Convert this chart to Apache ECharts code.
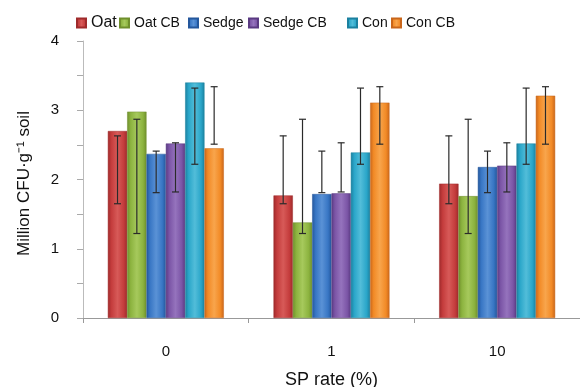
<!DOCTYPE html>
<html>
<head>
<meta charset="utf-8">
<script src="https://cdn.jsdelivr.net/npm/echarts@6/dist/echarts.min.js"></script>
<style>
  html, body { margin: 0; padding: 0; background: #fff; }
  #chart { width: 580px; height: 387px; }
</style>
</head>
<body>
<div id="chart"></div>
<script>
// SP rate categories
const categories = ['0', '1', '10']
const seriesNames = ['Oat', 'Oat CB', 'Sedge', 'Sedge CB', 'Con', 'Con CB']

// mean values (Million CFU per g soil)
const oat = [2.70, 1.77, 1.94]
const oatCB = [2.98, 1.38, 1.76]
const sedge = [2.37, 1.79, 2.18]
const sedgeCB = [2.52, 1.80, 2.20]
const con = [3.40, 2.39, 2.52]
const conCB = [2.45, 3.11, 3.21]

// error bars [low, high]
const oatErr = [[1.65, 2.63], [1.65, 2.63], [1.65, 2.63]]
const oatCBErr = [[1.22, 2.87], [1.22, 2.87], [1.22, 2.87]]
const sedgeErr = [[1.81, 2.41], [1.81, 2.41], [1.81, 2.41]]
const sedgeCBErr = [[1.82, 2.53], [1.82, 2.53], [1.82, 2.53]]
const conErr = [[2.22, 3.32], [2.22, 3.32], [2.22, 3.32]]
const conCBErr = [[2.51, 3.34], [2.51, 3.34], [2.51, 3.34]]

const yTicks = [0, 1, 2, 3, 4]

const values = [oat, oatCB, sedge, sedgeCB, con, conCB]
const errs = [oatErr, oatCBErr, sedgeErr, sedgeCBErr, conErr, conCBErr]
const colors = [
    ['#9e2a2b', '#c43c3c', '#d75a58'],
    ['#6f8f2c', '#8cb33f', '#a6c95c'],
    ['#24579c', '#3876c4', '#5a92d6'],
    ['#5a3a82', '#7b55a6', '#9573bd'],
    ['#1b809f', '#2aa6c9', '#52bdd9'],
    ['#c9661a', '#f28a26', '#f8a54c'],
]
const font = 'Liberation Sans, Arial, sans-serif'
const barCatGap = 0.3

function glossy(c) {
    return {
        type: 'linear', x: 0, y: 0, x2: 1, y2: 0,
        colorStops: [
            { offset: 0, color: c[0] },
            { offset: 0.18, color: c[1] },
            { offset: 0.5, color: c[2] },
            { offset: 0.82, color: c[1] },
            { offset: 1, color: c[0] },
        ],
    }
}

var chart = echarts.init(document.getElementById('chart'))

let series = []
seriesNames.forEach(function (name, i) {
    series.push({
        name: name,
        type: 'bar',
        data: values[i],
        barGap: '0%',
        barCategoryGap: (barCatGap * 100) + '%',
        itemStyle: { color: glossy(colors[i]), borderColor: colors[i][0], borderWidth: 0.5 },
        emphasis: { disabled: true },
    })
})
seriesNames.forEach(function (name, i) {
    series.push({
        name: name + ' err',
        type: 'custom',
        z: 10,
        data: errs[i].map(function (e, k) { return [k, e[0], e[1]] }),
        renderItem: function (params, api) {
            var band = api.size([1, 0])[0]
            var barW = band * (1 - barCatGap) / seriesNames.length
            var off = (i - (seriesNames.length - 1) / 2) * barW
            var lo = api.coord([api.value(0), api.value(1)])
            var hi = api.coord([api.value(0), api.value(2)])
            var x = lo[0] + off
            var cap = 3.5
            var st = { stroke: '#2a2a2a', lineWidth: 1.2 }
            return {
                type: 'group',
                children: [
                    { type: 'line', shape: { x1: x, y1: lo[1], x2: x, y2: hi[1] }, style: st },
                    { type: 'line', shape: { x1: x - cap, y1: lo[1], x2: x + cap, y2: lo[1] }, style: st },
                    { type: 'line', shape: { x1: x - cap, y1: hi[1], x2: x + cap, y2: hi[1] }, style: st },
                ],
            }
        },
    })
})

// one legend per item so spacing follows the reference
const legendLeft = [71, 114, 183, 243, 342, 386]
let legends = seriesNames.map(function (name, i) {
    return {
        left: legendLeft[i],
        top: i === 0 ? 10 : 11,
        itemWidth: 9,
        itemHeight: 9,
        icon: 'rect',
        selectedMode: false,
        data: [name],
        textStyle: { fontFamily: font, fontSize: i === 0 ? 16 : 14, color: '#111' },
    }
})

let option = {
    backgroundColor: '#fff',
    animation: false,
    legend: legends,
    grid: { left: 83, right: 0, top: 41, bottom: 69, outerBoundsMode: 'none', containLabel: false },
    xAxis: {
        type: 'category',
        data: categories,
        name: 'SP rate (%)',
        nameLocation: 'middle',
        nameGap: 53,
        nameMoveOverlap: false,
        nameTextStyle: { fontFamily: font, fontSize: 18, color: '#111' },
        axisLine: { lineStyle: { color: '#999', width: 1 } },
        axisTick: { show: true, length: 5, lineStyle: { color: '#999' } },
        axisLabel: { fontFamily: font, fontSize: 15, color: '#111', margin: 26 },
    },
    yAxis: {
        type: 'value',
        min: 0,
        max: 4,
        interval: 0.5,
        name: 'Million CFU·g⁻¹ soil',
        nameLocation: 'middle',
        nameGap: 50,
        nameMoveOverlap: false,
        nameTextStyle: { fontFamily: font, fontSize: 17, color: '#111', padding: [0, 8, 0, 0] },
        axisLine: { show: true, lineStyle: { color: '#bbb', width: 1 } },
        axisTick: { show: true, length: 6, lineStyle: { color: '#aaa' } },
        splitLine: { show: false },
        axisLabel: {
            fontFamily: font, fontSize: 15, color: '#111', margin: 24,
            formatter: function (v) { return yTicks.indexOf(v) >= 0 ? String(v) : '' },
        },
    },
    series: series,
}
chart.setOption(option)
</script>
</body>
</html>
